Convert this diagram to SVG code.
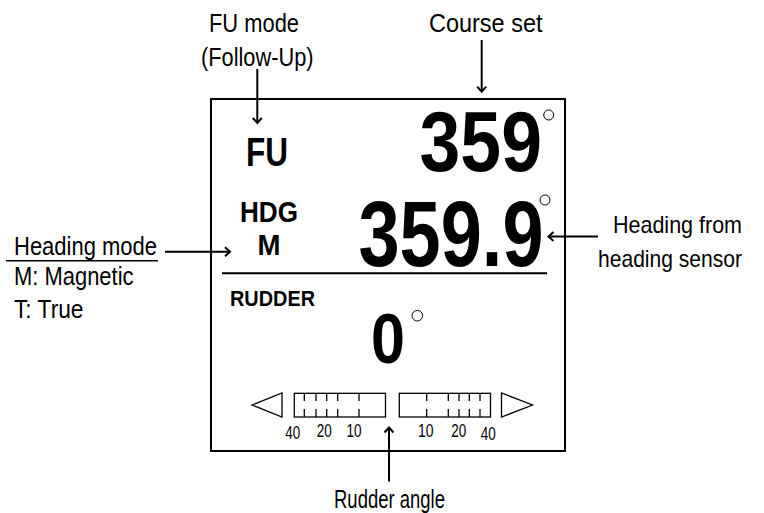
<svg xmlns="http://www.w3.org/2000/svg" width="764" height="513" viewBox="0 0 764 513">
<style>
.lbl{font-family:"Liberation Sans",Arial,sans-serif;font-size:26px;fill:#000}
.b{font-family:"Liberation Sans",Arial,sans-serif;font-weight:bold;fill:#000}
.sc{font-family:"Liberation Sans",Arial,sans-serif;font-size:18px;fill:#000}
.ln{stroke:#000;stroke-width:2;fill:none}
.thin{stroke:#000;stroke-width:1.3;fill:none}
.deg{stroke:#000;stroke-width:1;fill:none}
.arr{stroke:#000;stroke-width:2;fill:none;marker-end:url(#ah)}
</style>
<defs>
<marker id="ah" markerWidth="12" markerHeight="12" refX="10" refY="6" orient="auto" markerUnits="userSpaceOnUse">
<path d="M5,1.5 L10,6 L5,10.5" fill="none" stroke="#000" stroke-width="2"/>
</marker>
</defs>
<rect width="764" height="513" fill="#fff"/>

<g id="display">
<rect x="211" y="99" width="354" height="352" class="ln"/>
<line x1="222" y1="273.3" x2="547" y2="273.3" class="ln"/>
</g>

<g id="fu-indicator">
<text x="246" y="165.7" class="b" font-size="40" textLength="42" lengthAdjust="spacingAndGlyphs">FU</text>
</g>

<g id="course-value">
<text x="419.5" y="170.5" class="b" font-size="85" textLength="122.5" lengthAdjust="spacingAndGlyphs">359</text>
<circle cx="548.7" cy="115" r="5" class="deg"/>
</g>

<g id="hdg-indicator">
<text x="240" y="221.7" class="b" font-size="30" textLength="58" lengthAdjust="spacingAndGlyphs">HDG</text>
<text x="257.5" y="255" class="b" font-size="30" textLength="23" lengthAdjust="spacingAndGlyphs">M</text>
</g>

<g id="heading-value">
<text x="358.5" y="265.5" class="b" font-size="93" textLength="185" lengthAdjust="spacingAndGlyphs">359.9</text>
<circle cx="545" cy="200" r="5" class="deg"/>
</g>

<g id="rudder-indicator">
<text x="230" y="306" class="b" font-size="22" textLength="85" lengthAdjust="spacingAndGlyphs">RUDDER</text>
<text x="371" y="362.5" class="b" font-size="71" textLength="34" lengthAdjust="spacingAndGlyphs">0</text>
<circle cx="417.3" cy="315.7" r="5.3" class="deg"/>
</g>

<g id="rudder-scale">
<polygon points="252,405 282,393 282,417" class="thin"/>
<rect x="294.3" y="393.3" width="91.2" height="23.7" class="thin"/>
<rect x="399.3" y="393.3" width="91.2" height="23.7" class="thin"/>
<polygon points="501.5,393 501.5,417 532.5,405" class="thin"/>
<path class="thin" d="M304.3,393.3V401M316,393.3V401M326.7,393.3V401M337.7,393.3V401M359,393.3V401M304.3,409V417M316,409V417M326.7,409V417M337.7,409V417M359,409V417"/>
<path class="thin" d="M426.7,393.3V401M448.3,393.3V401M459,393.3V401M469.3,393.3V401M480,393.3V401M426.7,409V417M448.3,409V417M459,409V417M469.3,409V417M480,409V417"/>
<text x="285.2" y="439" class="sc" textLength="15" lengthAdjust="spacingAndGlyphs">40</text>
<text x="316.8" y="437" class="sc" textLength="15" lengthAdjust="spacingAndGlyphs">20</text>
<text x="346.5" y="437" class="sc" textLength="15" lengthAdjust="spacingAndGlyphs">10</text>
<text x="418" y="437" class="sc" textLength="15.5" lengthAdjust="spacingAndGlyphs">10</text>
<text x="451.2" y="437" class="sc" textLength="15" lengthAdjust="spacingAndGlyphs">20</text>
<text x="480.8" y="439.5" class="sc" textLength="15" lengthAdjust="spacingAndGlyphs">40</text>
</g>

<g id="fu-mode-label">
<text x="209" y="32.3" class="lbl" textLength="90" lengthAdjust="spacingAndGlyphs">FU mode</text>
<text x="201" y="66" class="lbl" textLength="112.5" lengthAdjust="spacingAndGlyphs">(Follow-Up)</text>
</g>

<g id="course-set-label">
<text x="429" y="31.7" class="lbl" textLength="113.5" lengthAdjust="spacingAndGlyphs">Course set</text>
</g>

<g id="heading-sensor-label">
<text x="613" y="233" class="lbl" font-size="24" style="font-size:24px" textLength="129" lengthAdjust="spacingAndGlyphs">Heading from</text>
<text x="598" y="266.5" class="lbl" style="font-size:24px" textLength="144" lengthAdjust="spacingAndGlyphs">heading sensor</text>
</g>

<g id="heading-mode-label">
<text x="14" y="255" class="lbl" textLength="143" lengthAdjust="spacingAndGlyphs">Heading mode</text>
<line x1="6" y1="260.7" x2="158" y2="260.7" stroke="#000" stroke-width="1.5"/>
<text x="14" y="285" class="lbl" textLength="119.5" lengthAdjust="spacingAndGlyphs">M: Magnetic</text>
<text x="14" y="318" class="lbl" textLength="69.5" lengthAdjust="spacingAndGlyphs">T: True</text>
</g>

<g id="rudder-angle-label">
<text x="334" y="507.5" class="lbl" textLength="111" lengthAdjust="spacingAndGlyphs">Rudder angle</text>
</g>

<g id="connectors">
<line x1="257.3" y1="69" x2="257.3" y2="123" class="arr"/>
<line x1="481.7" y1="40" x2="481.7" y2="91.7" class="arr"/>
<line x1="598" y1="236.5" x2="548.5" y2="236.5" class="arr"/>
<line x1="165" y1="251.7" x2="230" y2="251.7" class="arr"/>
<line x1="389" y1="481.5" x2="389" y2="427.5" class="arr"/>
</g>
</svg>
